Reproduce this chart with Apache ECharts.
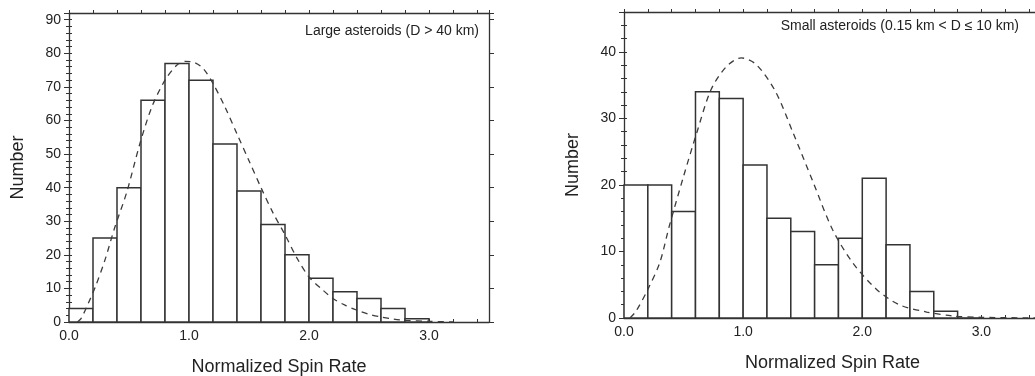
<!DOCTYPE html>
<html>
<head>
<meta charset="utf-8">
<script src="https://cdn.jsdelivr.net/npm/echarts@6/dist/echarts.min.js"></script>
<style>
html,body{margin:0;padding:0;background:#fff;}
#chart{width:1035px;height:376px;}
</style>
</head>
<body>
<div id="chart"></div>
<script>
// ---- data ----
const binStarts = [0.0,0.2,0.4,0.6,0.8,1.0,1.2,1.4,1.6,1.8,2.0,2.2,2.4,2.6,2.8];
const binWidth = 0.2;
const largeCounts = [4,25,40,66,77,72,53,39,29,20,13,9,7,4,1];
const smallCounts = [20,20,16,34,33,23,15,13,8,12,21,11,4,1,0];

const largeCurveX = [0.07,0.1,0.16,0.22,0.3,0.38,0.48,0.59,0.69,0.8,0.9,0.97,1.05,1.12,1.2,1.3,1.4,1.5,1.6,1.7,1.8,1.9,2.0,2.1,2.2,2.3,2.4,2.5,2.6,2.7,2.8,3.0,3.2];
const largeCurveY = [0,1,5.5,10.5,18.5,28,38.5,53,64,72,76.5,77.6,77.2,75.4,71,64,56,48,40,32.5,26,19,13.4,10,7,5,3.5,2.3,1.5,0.9,0.5,0.2,0];

const smallCurveX = [0.05,0.1,0.2,0.3,0.38,0.5,0.61,0.73,0.86,0.985,1.11,1.27,1.42,1.59,1.75,1.92,2.12,2.31,2.54,2.76,3.0,3.5];
const smallCurveY = [0,1,4.3,8.3,13.8,21.3,27.8,34.3,37.8,39.1,38.1,34.1,27.8,20.3,13.3,8.3,4.3,2,0.9,0.3,0.1,0];

const xTickLabels = ['0.0','1.0','2.0','3.0'];
const xName = 'Normalized Spin Rate';
const yName = 'Number';
const largeLabel = 'Large asteroids (D > 40 km)';
const smallLabel = 'Small asteroids (0.15 km < D \u2264 10 km)';

// ---- build ----
const LINE = '#333';
const TEXT = '#222';
const FONT = '"Liberation Sans", Arial, Helvetica, sans-serif';

function bins(counts){
  return counts.map((c,i)=>[binStarts[i], +(binStarts[i]+binWidth).toFixed(2), c]);
}
function pts(xs, ys){ return xs.map((x,i)=>[x, ys[i]]); }

function xAxes(gridIndex){
  const fmt = v => {
    const r = Math.round(v);
    if (Math.abs(v - r) < 1e-6) { const s = r.toFixed(1); return xTickLabels.indexOf(s) >= 0 ? s : ''; }
    return '';
  };
  return [
    {gridIndex, type:'value', position:'bottom', min:0, max:3.5, interval:0.2,
     name:xName, nameLocation:'middle', nameGap:36,
     nameTextStyle:{fontFamily:FONT, fontSize:18, color:TEXT},
     axisLine:{show:true, onZero:false, lineStyle:{color:LINE, width:1.3}},
     axisTick:{show:true, inside:true, length:3, lineStyle:{color:LINE, width:1}},
     axisLabel:{formatter:fmt, margin:7, fontFamily:FONT, fontSize:14, color:TEXT},
     splitLine:{show:false}},
    {gridIndex, type:'value', position:'top', min:0, max:3.5, interval:0.2,
     axisLine:{show:true, onZero:false, lineStyle:{color:LINE, width:1.3}},
     axisTick:{show:true, inside:false, length:3, lineStyle:{color:LINE, width:1}},
     axisLabel:{show:false}, splitLine:{show:false}}
  ];
}
function yAxes(gridIndex, max){
  const fmt = v => (Math.abs(v % 10) < 1e-6 ? String(v) : '');
  return [
    {gridIndex, type:'value', position:'left', min:0, max, interval:10,
     name:yName, nameLocation:'middle', nameGap:42,
     nameTextStyle:{fontFamily:FONT, fontSize:18, color:TEXT},
     axisLine:{show:true, onZero:false, lineStyle:{color:LINE, width:1.3}},
     axisTick:{show:true, inside:false, length:5, lineStyle:{color:LINE, width:1}},
     axisLabel:{formatter:fmt, margin:8, fontFamily:FONT, fontSize:14, color:TEXT},
     splitLine:{show:false}},
    {gridIndex, type:'value', position:'left', min:0, max, interval:2,
     axisLine:{show:false},
     axisTick:{show:true, inside:false, length:3, lineStyle:{color:LINE, width:1}},
     axisLabel:{show:false}, splitLine:{show:false}},
    {gridIndex, type:'value', position:'right', min:0, max, interval:10,
     axisLine:{show:true, onZero:false, lineStyle:{color:LINE, width:1.3}},
     axisTick:{show:true, inside:false, length:5, lineStyle:{color:LINE, width:1}},
     axisLabel:{show:false}, splitLine:{show:false}},
    {gridIndex, type:'value', position:'right', min:0, max, interval:2,
     axisLine:{show:false},
     axisTick:{show:true, inside:false, length:3, lineStyle:{color:LINE, width:1}},
     axisLabel:{show:false}, splitLine:{show:false}}
  ];
}

function histSeries(xi, yi, data){
  return {
    type:'custom', xAxisIndex:xi, yAxisIndex:yi, data, z:2, clip:false,
    encode:{x:[0,1], y:2},
    renderItem:(params, api)=>{
      const p0 = api.coord([api.value(0), api.value(2)]);
      const p1 = api.coord([api.value(1), 0]);
      return {type:'rect',
        shape:{x:p0[0], y:p0[1], width:p1[0]-p0[0], height:p1[1]-p0[1]},
        style:{fill:'#fff', stroke:'#333', lineWidth:1.5}};
    }
  };
}
function curveSeries(xi, yi, data){
  return {type:'line', xAxisIndex:xi, yAxisIndex:yi, data, smooth:0.3, symbol:'none', z:5,
    lineStyle:{color:'#3c3c3c', width:1.3, type:[6,5]}, silent:true};
}

const chart = echarts.init(document.getElementById('chart'), null, {renderer:'canvas'});
chart.setOption({
  animation:false,
  backgroundColor:'#fff',
  grid:[
    {left:69, right:546, top:13, bottom:54, outerBoundsMode:'none', containLabel:false},
    {left:624, width:417, top:12, bottom:58, outerBoundsMode:'none', containLabel:false}
  ],
  xAxis:[...xAxes(0), ...xAxes(1)],
  yAxis:[...yAxes(0, 92), ...yAxes(1, 46)],
  graphic:[
    {type:'text', right:556, top:24, style:{text:largeLabel, fontFamily:FONT, fontSize:14, fill:TEXT}},
    {type:'text', right:16, top:19, style:{text:smallLabel, fontFamily:FONT, fontSize:14, fill:TEXT}}
  ],
  series:[
    histSeries(0, 0, bins(largeCounts)),
    curveSeries(0, 0, pts(largeCurveX, largeCurveY)),
    histSeries(2, 4, bins(smallCounts)),
    curveSeries(2, 4, pts(smallCurveX, smallCurveY))
  ]
});
</script>
</body>
</html>
